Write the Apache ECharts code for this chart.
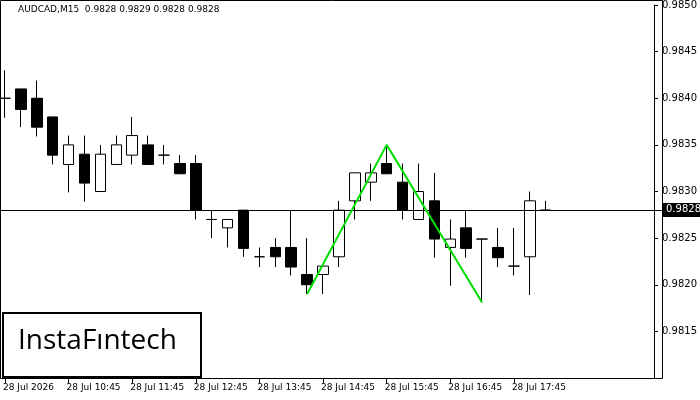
<!DOCTYPE html>
<html>
<head>
<meta charset="utf-8">
<script src="https://cdn.jsdelivr.net/npm/echarts@6/dist/echarts.min.js"></script>
<style>html,body{margin:0;padding:0;background:#fff}#main{width:700px;height:400px}</style>
</head>
<body>
<div id="main"></div>
<script>
var chartDom = document.getElementById('main');
var myChart = echarts.init(chartDom);

// 15-minute candles, 09:45 .. 18:15
var times = ['09:45','10:00','10:15','10:30','10:45','11:00','11:15','11:30','11:45','12:00',
  '12:15','12:30','12:45','13:00','13:15','13:30','13:45','14:00','14:15','14:30',
  '14:45','15:00','15:15','15:30','15:45','16:00','16:15','16:30','16:45','17:00',
  '17:15','17:30','17:45','18:00','18:15'];
// open, close, low, high
var candles = [
  [0.98400,0.98400,0.98379,0.98430],[0.98410,0.98388,0.98369,0.98410],[0.98400,0.98369,0.98359,0.98419],
  [0.98380,0.98339,0.98329,0.98380],[0.98329,0.98350,0.98299,0.98360],[0.98340,0.98309,0.98289,0.98360],
  [0.98300,0.98340,0.98300,0.98350],[0.98329,0.98350,0.98329,0.98360],[0.98339,0.98360,0.98329,0.98380],
  [0.98350,0.98329,0.98329,0.98360],[0.98339,0.98339,0.98329,0.98350],[0.98330,0.98319,0.98319,0.98339],
  [0.98330,0.98280,0.98270,0.98339],[0.98270,0.98270,0.98250,0.98280],[0.98261,0.98270,0.98240,0.98270],
  [0.98280,0.98239,0.98230,0.98280],[0.98230,0.98230,0.98219,0.98240],[0.98240,0.98230,0.98219,0.98250],
  [0.98240,0.98219,0.98210,0.98280],[0.98211,0.98200,0.98190,0.98250],[0.98211,0.98220,0.98190,0.98220],
  [0.98230,0.98280,0.98219,0.98290],[0.98290,0.98320,0.98270,0.98320],[0.98310,0.98320,0.98290,0.98330],
  [0.98330,0.98319,0.98319,0.98350],[0.98310,0.98280,0.98270,0.98330],[0.98270,0.98300,0.98270,0.98330],
  [0.98290,0.98249,0.98229,0.98320],[0.98240,0.98249,0.98199,0.98270],[0.98261,0.98239,0.98229,0.98279],
  [0.98249,0.98249,0.98181,0.98249],[0.98240,0.98229,0.98219,0.98261],[0.98220,0.98220,0.98210,0.98261],
  [0.98230,0.98290,0.98189,0.98300],[0.98280,0.98280,0.98280,0.98290]
];
// double top pattern points: [candle index, price]
var patternPoints = [[19,0.98190],[24,0.98350],[30,0.98181]];
var lastPrice = 0.9828;
var totalSlots = 42;

var categories = [];
for (var i = 0; i < totalSlots; i++) {
  if (i === 0) categories.push('28 Jul 2026');
  else if (i < times.length) categories.push('28 Jul ' + times[i]);
  else categories.push('');
}
var patternData = categories.map(function () { return null; });
patternPoints.forEach(function (p) { patternData[p[0]] = p[1]; });

function everyFourth(idx) { return idx % 4 === 0 && idx < times.length; }

var option = {
  animation: false,
  textStyle: { fontFamily: 'DejaVu Sans' },
  grid: { left: 3, right: 41, top: 2, bottom: 22, containLabel: false },
  xAxis: {
    type: 'category',
    boundaryGap: false,
    data: categories,
    axisLine: { lineStyle: { color: '#000' } },
    axisTick: { show: true, interval: everyFourth, lineStyle: { color: '#000' } },
    axisLabel: { interval: everyFourth, color: '#000', fontSize: 9, align: 'left', margin: 5, padding: [0, 0, 0, -2] },
    splitLine: { show: false }
  },
  yAxis: {
    type: 'value',
    position: 'right',
    offset: -3,
    min: 0.9810, max: 0.9850, interval: 0.0005,
    axisLine: { show: true, lineStyle: { color: '#000' } },
    axisTick: { show: true, length: 4, lineStyle: { color: '#000' } },
    axisLabel: {
      color: '#000', fontSize: 10, margin: 8,
      formatter: function (v) { return v.toFixed(4); },
      showMinLabel: false
    },
    splitLine: { show: false }
  },
  graphic: [
    { type: 'rect', shape: { x: 0.5, y: 0.5, width: 662, height: 378 },
      style: { fill: 'none', stroke: '#000', lineWidth: 1 }, z: 0 },
    { type: 'text', left: 18, top: 5,
      style: { text: 'AUDCAD,M15  0.9828 0.9829 0.9828 0.9828', fill: '#000', font: '9px DejaVu Sans' } },
    { type: 'rect', shape: { x: 3, y: 313, width: 198, height: 64 },
      style: { fill: '#fff', stroke: '#000', lineWidth: 2 }, z: 10 },
    { type: 'text', left: 18, top: 327, z: 11,
      style: { text: 'InstaFıntech', fill: '#000', font: '500 28px "Open Sans"' } },
    { type: 'rect', shape: { x: 663, y: 203, width: 37, height: 14 },
      style: { fill: '#000' }, z: 10 },
    { type: 'text', left: 666, top: 204, z: 11,
      style: { text: lastPrice.toFixed(4), fill: '#fff', font: '10px DejaVu Sans' } }
  ],
  series: [
    {
      type: 'candlestick',
      data: candles,
      barWidth: 11,
      clip: false,
      itemStyle: { color: '#fff', color0: '#000', borderColor: '#000', borderColor0: '#000', borderWidth: 1 },
      markLine: {
        symbol: 'none', silent: true, label: { show: false },
        lineStyle: { color: '#000', type: 'solid', width: 1 },
        data: [{ yAxis: lastPrice, x: 0 }, { yAxis: lastPrice, x: 662 }].length ? [[{ yAxis: lastPrice, x: 0 }, { yAxis: lastPrice, x: 662 }]] : []
      }
    },
    {
      type: 'line',
      data: patternData,
      connectNulls: true,
      symbol: 'none',
      lineStyle: { color: '#00dd00', width: 2 },
      z: 5
    }
  ]
};

option && myChart.setOption(option);
</script>
</body>
</html>
